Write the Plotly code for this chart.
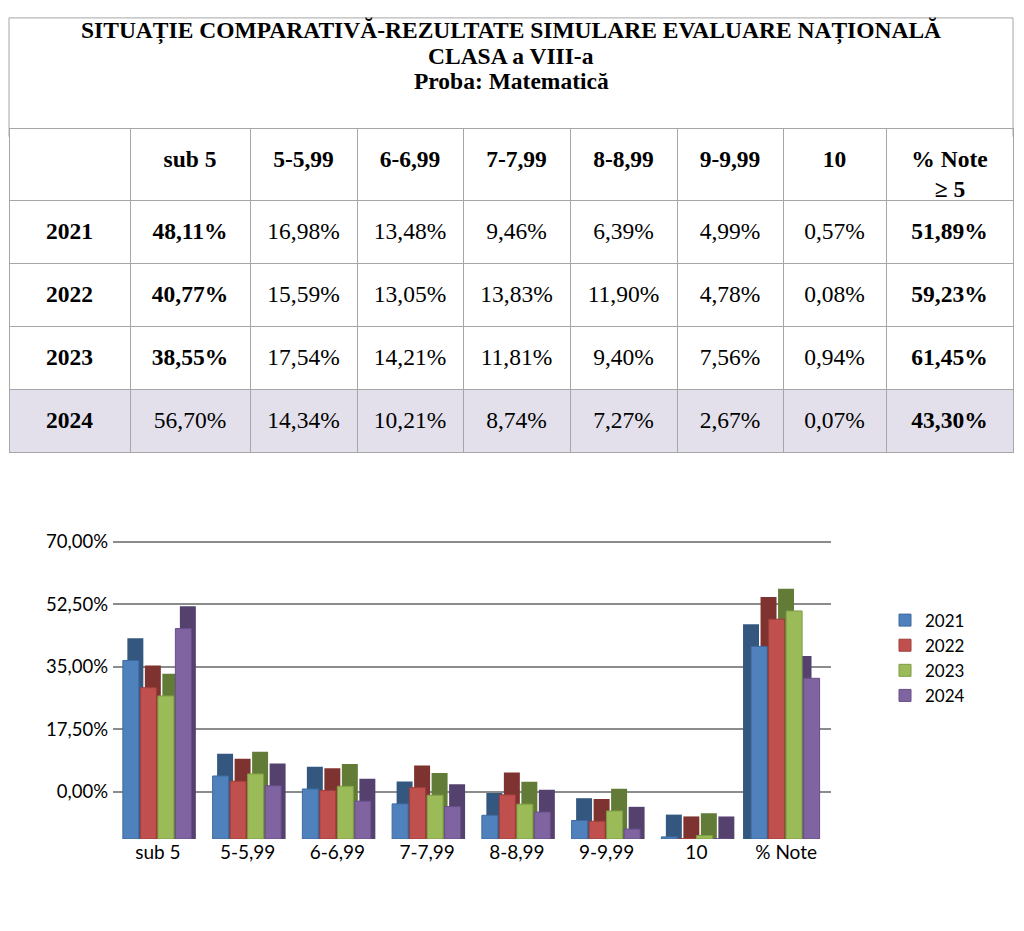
import plotly.graph_objects as go

# ---------------- data ----------------
categories = ["sub 5", "5-5,99", "6-6,99", "7-7,99", "8-8,99", "9-9,99", "10", "% Note"]
header_labels = ["", "sub 5", "5-5,99", "6-6,99", "7-7,99", "8-8,99", "9-9,99", "10",
                 "% Note<br>\u00a0\u00a0\u00a0\u00a0≥ 5"]
years = ["2021", "2022", "2023", "2024"]
v2021 = [48.11, 16.98, 13.48, 9.46, 6.39, 4.99, 0.57, 51.89]
v2022 = [40.77, 15.59, 13.05, 13.83, 11.90, 4.78, 0.08, 59.23]
v2023 = [38.55, 17.54, 14.21, 11.81, 9.40, 7.56, 0.94, 61.45]
v2024 = [56.70, 14.34, 10.21, 8.74, 7.27, 2.67, 0.07, 43.30]
series = [v2021, v2022, v2023, v2024]
# which table cells (by category index) are bold for each year
bold_cols = {"2021": [0, 7], "2022": [0, 7], "2023": [0, 7], "2024": [7]}
y_tickvals = [0, 17.5, 35, 52.5, 70]
y_ticktext = ["0,00%", "17,50%", "35,00%", "52,50%", "70,00%"]
title_lines = ["SITUAȚIE COMPARATIVĂ-REZULTATE SIMULARE EVALUARE NAȚIONALĂ",
               "CLASA a VIII-a", "Proba: Matematică"]

# ---------------- styles ----------------
colors = ["#4F81BD", "#C0504D", "#9BBB59", "#8064A2"]
edge = ["#3E6A9E", "#9E3E3B", "#7F9C45", "#684F88"]
dark = ["#34577F", "#7F3330", "#627C38", "#54416E"]

W, H = 1024, 931
def px(x):
    return x / W
def py(y):
    return 1 - y / H

def fmt(v):
    return f"{v:.2f}%".replace(".", ",")

# ---------------- table ----------------
col_values = [["<b>%s</b>" % y for y in years]]
for ci in range(len(categories)):
    col = []
    for yi, y in enumerate(years):
        s = fmt(series[yi][ci])
        s = ("<b>%s</b>" % s) if ci in bold_cols[y] else ("<span>%s</span>" % s)
        col.append(s)
    col_values.append(col)
header_values = ["<b>%s</b>" % h if h else "" for h in header_labels]
empty_cols = [["" for _ in years] for _ in header_labels]
fill_cols = [["white", "white", "white", "#E3E0EC"] for _ in header_labels]
colwidths = [121, 120, 107, 106, 107, 107, 106, 103, 127]
tfont = dict(family="Liberation Serif", size=23.5, color="black")
clear = "rgba(0,0,0,0)"
grey = "#A6A6A6"

fig = go.Figure()
# grid and fills
fig.add_trace(go.Table(
    domain=dict(x=[px(9), px(1013)], y=[py(462), py(120)]),
    columnwidth=colwidths,
    header=dict(values=["" for _ in header_labels], height=72,
                fill=dict(color="white"), line=dict(color=grey, width=1), font=tfont),
    cells=dict(values=empty_cols, height=63,
               fill=dict(color=fill_cols), line=dict(color=grey, width=1), font=tfont),
))
# text layer, lowered so the text sits mid-cell
dy = 9
fig.add_trace(go.Table(
    domain=dict(x=[px(9), px(1013)], y=[py(462 + dy), py(120 + dy)]),
    columnwidth=colwidths,
    header=dict(values=header_values, height=72, align="center",
                fill=dict(color=clear), line=dict(color=clear, width=0), font=tfont),
    cells=dict(values=col_values, height=63, align="center",
               fill=dict(color=clear), line=dict(color=clear, width=0), font=tfont),
))

# ---------------- bars (pseudo 3-D) ----------------
n = len(years)
step, bw = 0.195, 0.178          # slot and bar width, in category units
depth_units = 6.0                # height of the visible top face, in value units
shift_r, shift_l = 0.05, -0.09   # horizontal shift of the back face
for yi, y in enumerate(years):
    off = -step * n / 2 + yi * step
    back_off = [off + (shift_l if c == "% Note" else shift_r) for c in categories]
    fig.add_trace(go.Bar(
        x=categories, y=[v + depth_units for v in series[yi]], yaxis="y",
        offset=back_off, width=bw, showlegend=False, hoverinfo="skip",
        marker=dict(color=dark[yi], line=dict(width=0)),
    ))
for yi, y in enumerate(years):
    off = -step * n / 2 + yi * step
    fig.add_trace(go.Bar(
        x=categories, y=series[yi], name=y, yaxis="y",
        offset=off, width=bw,
        marker=dict(color=colors[yi], line=dict(color=edge[yi], width=1)),
    ))
# carrier for the back-wall value axis (no visible marks)
fig.add_trace(go.Scatter(x=categories, y=[None] * len(categories), yaxis="y2",
                         mode="lines", showlegend=False, hoverinfo="skip"))

# title box: top, left and right sides (the table supplies the bottom edge)
x0, x1, yt, yb = px(9), px(1013), py(8), py(128)
shapes = [dict(type="path", xref="paper", yref="paper",
               path=f"M {x0},{yb} L {x0},{yt} L {x1},{yt} L {x1},{yb}",
               line=dict(color=grey, width=1))]

annotations = []
for i, t in enumerate(title_lines):
    annotations.append(dict(text="<b>%s</b>" % t, x=px(511), y=py(21 + 25.5 * i),
                            xref="paper", yref="paper", showarrow=False,
                            xanchor="center", yanchor="middle",
                            font=dict(family="Liberation Serif", size=23.5, color="black")))

fig.update_layout(
    width=W, height=H,
    margin=dict(l=0, r=0, t=0, b=0),
    paper_bgcolor="white", plot_bgcolor="white",
    barmode="overlay",
    showlegend=True,
    legend=dict(x=px(885), y=py(599), xanchor="left", yanchor="top",
                font=dict(family="Lato", size=17, color="black"),
                tracegroupgap=0, itemwidth=30, bgcolor=clear),
    xaxis=dict(domain=[px(113), px(831)], showgrid=False, zeroline=False,
               showline=False, ticks="",
               tickfont=dict(family="Lato", size=19, color="black")),
    yaxis=dict(domain=[py(838), py(536)], range=[0, 80.5], visible=False,
               showgrid=False, zeroline=False),
    yaxis2=dict(overlaying="y", side="left", range=[-13.2, 70.4],
                tickvals=y_tickvals, ticktext=y_ticktext,
                showgrid=True, gridcolor="#8C8C8C", gridwidth=2,
                zeroline=False, showline=False, ticks="", ticklabelstandoff=4,
                tickfont=dict(family="Lato", size=18.5, color="black")),
    shapes=shapes, annotations=annotations,
)

fig.write_html("out.html", config={"displayModeBar": False},
               post_script="document.body.style.margin='0';")
